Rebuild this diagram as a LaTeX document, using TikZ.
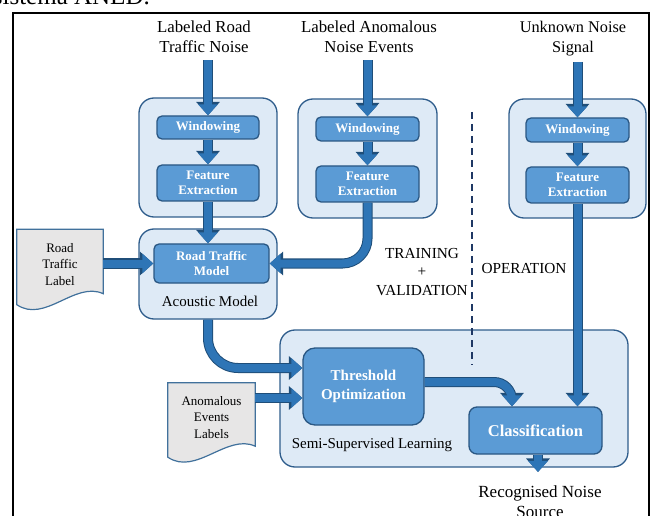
\documentclass[tikz,border=0pt]{standalone}
\usepackage{fontspec}
\setmainfont{Liberation Serif}
\usepackage{tikz}
\usetikzlibrary{arrows.meta,backgrounds}
\definecolor{grpfill}{HTML}{DEEAF6}
\definecolor{grpline}{HTML}{2F5D8C}
\definecolor{boxfill}{HTML}{5B9BD5}
\definecolor{boxline}{HTML}{2A5783}
\definecolor{flowfill}{HTML}{2E75B6}
\definecolor{flowline}{HTML}{1F4E79}
\definecolor{docfill}{HTML}{E7E6E6}
\definecolor{docline}{HTML}{41719C}
\definecolor{divider}{HTML}{1F3864}

\newcommand\docpage[1]{%
  \draw[docline, fill=docfill, line width=1.2pt] (#1.north west) -- (#1.north east) -- ([yshift=6pt]#1.south east)
    .. controls ([xshift=-28pt,yshift=19pt]#1.south east) and ([xshift=28pt,yshift=-24pt]#1.south west) .. ([yshift=-5pt]#1.south west) -- cycle;}

\begin{document}
\begin{tikzpicture}[x=1pt, y=-1pt,
    grp/.style={draw=grpline, fill=grpfill, line width=1.3pt, rounded corners=15pt, inner sep=0pt},
    blk/.style={draw=boxline, fill=boxfill, line width=1.3pt, rounded corners=5pt, inner sep=0pt,
                align=center, text=white, font=\fontsize{13}{15.5}\selectfont\bfseries},
    doc/.style={minimum width=86pt, minimum height=70pt, inner sep=0pt, align=center,
                font=\fontsize{13}{16.5}\selectfont},
    txt/.style={align=center, font=\fontsize{15}{19}\selectfont},
    src/.style={align=center, font=\fontsize{16.8}{20}\selectfont},
    flow/.style={line width=8pt, flowfill, -{Triangle[width=19pt,length=11pt]},
                 preaction={draw=flowline, line width=10pt, -{Triangle[width=23pt,length=13.5pt]}}}
  ]
    \useasboundingbox (0,0) rectangle (654,516);
    \clip (0,0) rectangle (654,516);

    \node[anchor=base east, inner sep=0pt, font=\fontsize{25}{30}\selectfont] (cap) at (150,5) {sistema ANED.};
    \draw[line width=1.4pt] (13,13) rectangle (649,540);

    \node[grp, minimum width=138pt, minimum height=119pt] (rtgrp) at (208,157.5) {};
    \node[grp, minimum width=139pt, minimum height=119pt] (angrp) at (367.5,158.5) {};
    \node[grp, minimum width=137pt, minimum height=119pt] (ungrp) at (577.5,158.5) {};
    \node[grp, minimum width=138pt, minimum height=90pt] (acgrp) at (208,274) {};
    \node[grp, minimum width=348pt, minimum height=137pt] (ssgrp) at (454,398.5) {};

    \node[blk, minimum width=102pt, minimum height=23pt] (win1) at (208,127.5) {Windowing};
    \node[blk, minimum width=102pt, minimum height=36pt] (fe1) at (208,183) {Feature\\Extraction};
    \node[blk, minimum width=103pt, minimum height=24pt] (win2) at (367.5,129) {Windowing};
    \node[blk, minimum width=103pt, minimum height=36pt] (fe2) at (367.5,184) {Feature\\Extraction};
    \node[blk, minimum width=103pt, minimum height=24pt] (win3) at (577.5,130) {Windowing};
    \node[blk, minimum width=103pt, minimum height=36pt] (fe3) at (577.5,185) {Feature\\Extraction};
    \node[blk, minimum width=115pt, minimum height=39pt] (rtm) at (211.5,263.5) {Road Traffic\\Model};
    \node[blk, minimum width=121pt, minimum height=77pt, rounded corners=12pt,
          font=\fontsize{15}{19}\selectfont\bfseries] (thr) at (363.5,386.5) {Threshold\\Optimization};
    \node[blk, minimum width=133pt, minimum height=47pt, rounded corners=8pt,
          font=\fontsize{16.5}{20}\selectfont\bfseries] (cls) at (535.5,430.5) {Classification};

    \node[src] (src1) at (204,37) {Labeled Road\\Traffic Noise};
    \node[src] (src2) at (369,37) {Labeled Anomalous\\Noise Events};
    \node[src, font=\fontsize{16.3}{20}\selectfont] (src3) at (573,39) {Unknown Noise\\Signal};
    \node[txt] (aclbl) at (210,301) {Acoustic Model};
    \node[txt] (sslbl) at (372,445) {Semi-Supervised Learning};
    \node[txt, font=\fontsize{15.3}{18.5}\selectfont] (trn) at (422,272) {TRAINING\\+\\VALIDATION};
    \node[txt, font=\fontsize{15.3}{18}\selectfont] (opr) at (524,269) {OPERATION};
    \node[txt, font=\fontsize{17}{20}\selectfont] (out) at (540,501.5) {Recognised Noise\\Source};

    \node[doc] (rtlab) at (60,264.5) {Road\\Traffic\\Label};
    \node[doc, minimum width=87pt, minimum height=69pt] (aelab) at (211.5,417.5) {Anomalous\\Events\\Labels};
    \begin{scope}[on background layer]
      \docpage{rtlab}
      \docpage{aelab}
    \end{scope}

    \draw[divider, line width=1.5pt, dash pattern=on 7pt off 5pt] (472,112) -- (472,365);

    \coordinate (thrup) at ([yshift=18.5pt]thr.west);
    \coordinate (thrin) at ([yshift=-11.5pt]thr.west);

    \draw[flow, shorten <=4pt] (src1.south -| win1.north) -- (win1.north);
    \draw[flow] (win1.south) -- (fe1.north);
    \draw[flow] (fe1.south) -- (fe1.south |- rtm.north);
    \draw[flow] (rtlab.east |- rtm.west) -- (rtm.west);
    \draw[flow, shorten <=4pt] (src2.south -| win2.north) -- (win2.north);
    \draw[flow] (win2.south) -- (fe2.north);
    \draw[flow, rounded corners=25pt] (fe2.south) |- (rtm.east);
    \draw[flow, shorten <=2pt] (src3.south -| win3.north) -- (win3.north);
    \draw[flow] (win3.south) -- (fe3.north);
    \draw[flow] (fe3.south) -- (fe3.south |- cls.north);
    \draw[flow, rounded corners=30pt] (acgrp.south) |- (thrup);
    \draw[flow] (aelab.east |- thrin) -- (thrin);
    \draw[flow, rounded corners=18pt] ([yshift=4.5pt]thr.east) -| ([xshift=-23.5pt]cls.north);
    \draw[flow, shorten >=10pt] ([xshift=2.5pt]cls.south) -- ([xshift=2.5pt]cls.south |- out.north);
  \end{tikzpicture}
\end{document}
